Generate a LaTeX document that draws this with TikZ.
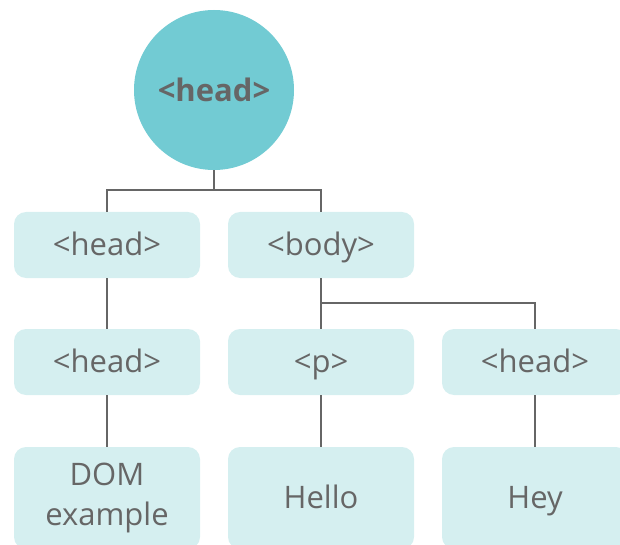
\documentclass[tikz,border=0pt]{standalone}
\usepackage{fontspec}
\setmainfont{Open Sans}
\usepackage{tikz}
\usetikzlibrary{positioning}
\definecolor{rootteal}{HTML}{72CBD3}
\definecolor{boxteal}{HTML}{D5EFF0}
\definecolor{inkgrey}{HTML}{666666}

\begin{document}
\begin{tikzpicture}[x=1pt, y=-1pt,
  every node/.style = {text=inkgrey, align=center, font=\fontsize{31}{40}\selectfont},
  tagbox/.style = {fill=boxteal, rounded corners=12pt, inner sep=0pt, minimum width=186pt, minimum height=66pt,
                   text height=22pt, text depth=2pt},
  leafbox/.style = {tagbox, minimum height=102pt},
  link/.style = {draw=inkgrey, line width=2pt}]
  \useasboundingbox (0,0) rectangle (620,545);
  \clip (0,0) rectangle (620,545);
  % root
  \node[circle, fill=rootteal, inner sep=0pt, minimum size=160pt,
        font=\bfseries\fontsize{31}{40}\selectfont] (root) at (214,90) {<head>};
  % first level
  \node[tagbox] (head) at (107,245) {<head>};
  \node[tagbox] (body) at (321,245) {<body>};
  % second level
  \node[tagbox] (title) at (107,362) {<head>};
  \node[tagbox] (para) at (321,362) {<p>};
  \node[tagbox] (side) at (535,362) {<head>};
  % leaves
  \node[leafbox, text height=, text depth=] (dom) at (107,498) {DOM\\example};
  \node[leafbox] (hello) at (321,498) {Hello};
  \node[leafbox] (hey) at (535,498) {Hey};
  % connectors
  \coordinate (rootsplit) at (214,190);
  \coordinate (bodysplit) at (321,303);
  \draw[link] (root) -- (rootsplit) -| (head);
  \draw[link] (rootsplit) -| (body);
  \draw[link] (head) -- (title);
  \draw[link] (body) -- (para);
  \draw[link] (bodysplit) -| (side);
  \draw[link] (title) -- (dom);
  \draw[link] (para) -- (hello);
  \draw[link] (side) -- (hey);
\end{tikzpicture}
\end{document}
